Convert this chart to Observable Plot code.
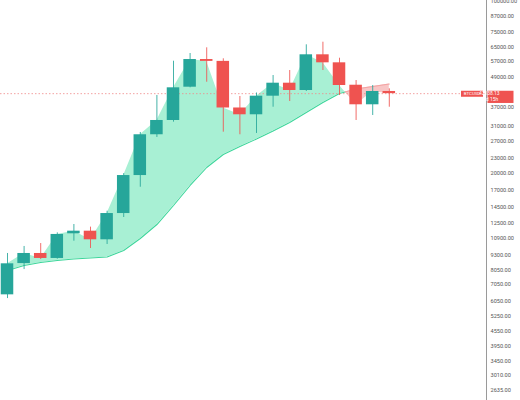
<!DOCTYPE html>
<html><head><meta charset="utf-8">
<script src="https://cdn.jsdelivr.net/npm/d3@7"></script>
<script src="https://cdn.jsdelivr.net/npm/@observablehq/plot@0.6"></script>
<style>
html,body{margin:0;padding:0;background:#fff;}
#chart{width:520px;height:400px;overflow:hidden;}
</style></head><body><div id="chart"></div>
<script>
// Monthly BTC/USD candles
const months = ["2020-04","2020-05","2020-06","2020-07","2020-08","2020-09","2020-10","2020-11","2020-12",
  "2021-01","2021-02","2021-03","2021-04","2021-05","2021-06","2021-07","2021-08","2021-09","2021-10","2021-11","2021-12",
  "2022-01","2022-02","2022-03"];
const opens  = [6410, 8590, 9440, 9010, 11350, 11630, 10730, 13720, 19580, 28680, 32780, 44760, 58000, 57000, 36850, 34580, 41150, 46470, 43400, 60620, 56240, 45600, 37970, 43000];
const highs  = [9440, 10080, 10360, 11450, 12380, 12080, 14020, 19940, 29300, 41420, 57090, 61360, 64720, 58390, 41030, 42400, 49930, 52330, 66560, 68210, 58720, 47650, 45480, 44090];
const lows   = [6190, 8120, 8920, 8950, 10590, 9890, 10270, 13220, 17550, 27960, 32270, 44500, 46900, 29380, 28680, 29030, 37120, 39160, 43000, 52330, 41420, 32780, 34350, 37120];
const closes = [8570, 9440, 9010, 11280, 11630, 10730, 13720, 19580, 28680, 32780, 44510, 58000, 57000, 36850, 34580, 41150, 46470, 43400, 60620, 56240, 45480, 37970, 43000, 42138.13];
const movingAvg = [8050, 8435, 8676, 8840, 8965, 9049, 9134, 9707, 10860, 12380, 14790, 17840, 21110, 23840, 25690, 27560, 29710, 32170, 35330, 38790, 42200, 44020, 45060, 46130];
const yTicks = [100000, 87000, 75000, 65000, 57000, 49000, 37000, 31000, 27000, 23000, 20000, 17000, 14500, 12500, 10900, 9300, 8050, 7050, 6050, 5250, 4550, 3950, 3450, 3010, 2635];
const symbolName = "BTCUSD";
const countdown = "22d 15h";

const UP = "#26a69a", DOWN = "#ef5350";
const candles = months.map((m, k) => ({i: k + 1, month: m, open: opens[k], high: highs[k], low: lows[k], close: closes[k], ma: movingAvg[k]}));

// fill points, inserting crossings between close and moving average
const fillPts = [];
const linePts = [];
for (let k = 0; k < candles.length; k++) {
  const c = candles[k];
  const s = c.close >= c.ma ? "up" : "down";
  fillPts.push({i: c.i, close: c.close, ma: c.ma});
  linePts.push({i: c.i, ma: c.ma, g: s});
  if (k < candles.length - 1) {
    const n = candles[k + 1];
    const d0 = Math.log(c.close / c.ma), d1 = Math.log(n.close / n.ma);
    if (d0 * d1 < 0) {
      const t = d0 / (d0 - d1);
      const v = Math.exp(Math.log(c.ma) + t * (Math.log(n.ma) - Math.log(c.ma)));
      fillPts.push({i: c.i + t, close: v, ma: v});
      linePts.push({i: c.i + t, ma: v, g: "up"});
      linePts.push({i: c.i + t, ma: v, g: "down"});
    }
  }
}
const last = candles[candles.length - 1];
const xDomain = [0.578, 29.855];
const half = 0.377;
const fmt = d3.format(".2f");

const chart = Plot.plot({
  width: 520, height: 400,
  marginLeft: 0, marginRight: 34, marginTop: 0, marginBottom: 0,
  style: {fontFamily: "Roboto, sans-serif", background: "#fff", overflow: "hidden"},
  x: {domain: xDomain, axis: null},
  y: {type: "log", domain: [2384, 100780], axis: null},
  marks: [
    Plot.areaY(fillPts, {x: "i", y1: "ma", y2: d => Math.max(d.close, d.ma), fill: "#a8f0d4", curve: "linear"}),
    Plot.areaY(fillPts, {x: "i", y1: "ma", y2: d => Math.min(d.close, d.ma), fill: "#f8c6c6", curve: "linear"}),
    Plot.line(linePts.filter(d => d.g === "up"), {x: "i", y: "ma", stroke: "#3dd69b", strokeWidth: 1.1}),
    Plot.line(linePts.filter(d => d.g === "down"), {x: "i", y: "ma", stroke: "#f3a3a3", strokeWidth: 1.1}),
    Plot.ruleY([last.close], {stroke: "#f08a8a", strokeDasharray: "1.5,2", strokeWidth: 0.8}),
    Plot.ruleX(candles.filter(d => d.close >= d.open), {x: "i", y1: "low", y2: "high", stroke: UP, strokeWidth: 1, strokeOpacity: 0.85}),
    Plot.ruleX(candles.filter(d => d.close < d.open), {x: "i", y1: "low", y2: "high", stroke: DOWN, strokeWidth: 1, strokeOpacity: 0.85}),
    Plot.rect(candles.filter(d => d.close >= d.open), {x1: d => d.i - half, x2: d => d.i + half, y1: "open", y2: "close", fill: UP}),
    Plot.rect(candles.filter(d => d.close < d.open), {x1: d => d.i - half, x2: d => d.i + half, y1: "open", y2: "close", fill: DOWN}),
    Plot.ruleX([xDomain[1]], {stroke: "#9a9a9a", strokeWidth: 1}),
    Plot.text(yTicks, {y: d => d, frameAnchor: "right", dx: 4, textAnchor: "start", text: d => fmt(d), fontSize: 5.6, fill: "#555"})
  ]
});
document.getElementById("chart").appendChild(chart);

// price labels at the last close
const svg = d3.select(chart);
const py = chart.scale("y").apply(last.close);
const axisX = chart.scale("x").apply(xDomain[1]);
const g = svg.append("g").attr("font-family", "Roboto, sans-serif");
g.append("rect").attr("x", axisX - 25).attr("y", py - 2.4).attr("width", 22).attr("height", 6.0).attr("fill", DOWN);
g.append("text").attr("x", axisX - 14).attr("y", py + 0.6).attr("text-anchor", "middle").attr("dominant-baseline", "middle")
  .attr("font-size", 4.4).attr("fill", "#fff").text(symbolName);
g.append("rect").attr("x", axisX + 1.5).attr("y", py - 2.4).attr("width", 26).attr("height", 12.2).attr("fill", DOWN);
g.append("text").attr("x", axisX + 3.3).attr("y", py + 0.6).attr("dominant-baseline", "middle")
  .attr("font-size", 4.9).attr("fill", "#fff").text(fmt(last.close));
g.append("text").attr("x", axisX + 3.3).attr("y", py + 6.7).attr("dominant-baseline", "middle")
  .attr("font-size", 4.9).attr("fill", "#fff").text(countdown);
</script>
</body></html>
